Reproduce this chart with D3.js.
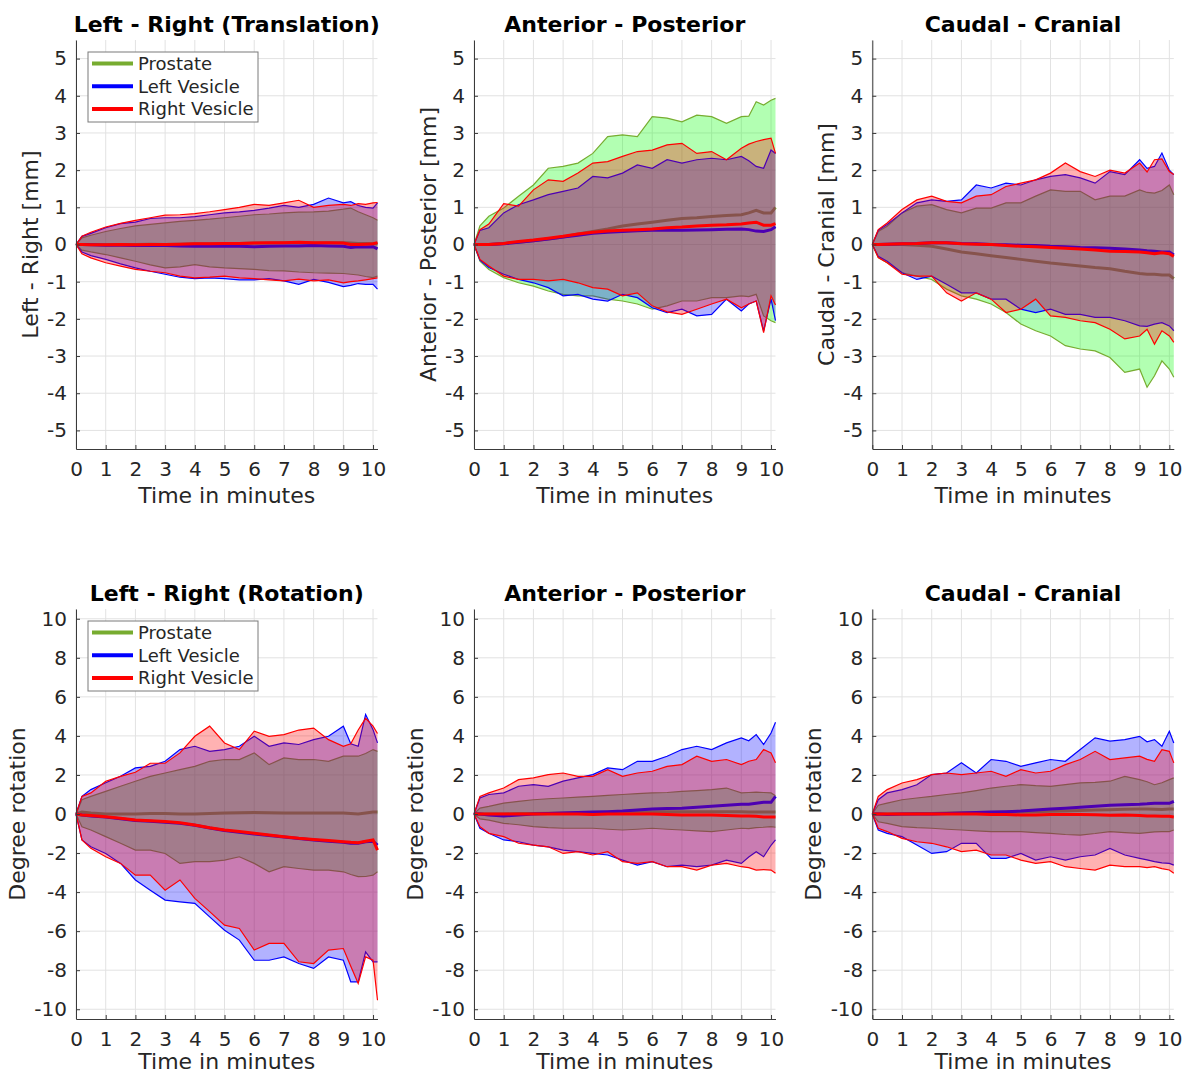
<!DOCTYPE html>
<html>
<head>
<meta charset="utf-8">
<style>
  body { margin: 0; background: #fff; }
  text { font-family: "DejaVu Sans", sans-serif; fill: #262626; }
  .grid line { stroke: #e2e2e2; stroke-width: 1; }
  .axis path, .axis line { stroke: #3a3a3a; stroke-width: 1; }
  .axis text { font-family: "DejaVu Sans", sans-serif; font-size: 20px; fill: #262626; }
</style>
</head>
<body>
<script src="https://cdn.jsdelivr.net/npm/d3@7"></script>
<script>
// time axis (minutes)
var time = [0, 0.2, 0.5, 1, 1.5, 2, 2.5, 3, 3.5, 4, 4.5, 5, 5.5, 6, 6.5, 7, 7.5, 8, 8.5, 9, 9.25, 9.5, 9.75, 10, 10.15];

// Left - Right (translation) [mm]
var lrT_pro_hi = [0, 0.18, 0.25, 0.35, 0.43, 0.5, 0.54, 0.58, 0.62, 0.65, 0.68, 0.72, 0.76, 0.8, 0.82, 0.85, 0.87, 0.88, 0.9, 0.95, 0.98, 0.88, 0.8, 0.72, 0.65];
var lrT_pro_mu = [0, 0, 0, -0.01, 0, 0, 0.01, 0, 0.01, 0.02, 0.02, 0.03, 0.03, 0.04, 0.04, 0.05, 0.05, 0.04, 0.05, 0.05, 0.04, 0.03, 0.03, 0.02, 0.02];
var lrT_pro_lo = [0, -0.15, -0.2, -0.27, -0.36, -0.45, -0.55, -0.63, -0.6, -0.54, -0.6, -0.63, -0.65, -0.67, -0.7, -0.71, -0.74, -0.76, -0.77, -0.78, -0.8, -0.82, -0.86, -0.89, -0.85];
var lrT_lv_hi = [0, 0.22, 0.3, 0.45, 0.56, 0.6, 0.7, 0.72, 0.72, 0.75, 0.8, 0.85, 0.88, 0.92, 0.98, 1.05, 1.0, 1.08, 1.25, 1.12, 1.15, 1.05, 1.0, 0.98, 1.12];
var lrT_lv_mu = [0, 0, -0.01, -0.02, -0.02, -0.03, -0.03, -0.03, -0.04, -0.05, -0.05, -0.05, -0.05, -0.06, -0.05, -0.04, -0.04, -0.03, -0.04, -0.05, -0.08, -0.06, -0.07, -0.06, -0.12];
var lrT_lv_lo = [0, -0.2, -0.3, -0.4, -0.52, -0.63, -0.72, -0.8, -0.88, -0.92, -0.9, -0.92, -0.95, -0.95, -0.92, -0.98, -1.07, -0.94, -1.02, -1.13, -1.1, -1.05, -1.07, -1.07, -1.2];
var lrT_rv_hi = [0, 0.22, 0.33, 0.47, 0.57, 0.65, 0.72, 0.79, 0.8, 0.83, 0.88, 0.94, 1.0, 1.08, 1.05, 1.12, 1.19, 1.0, 1.05, 1.08, 1.05, 1.1, 1.08, 1.12, 1.13];
var lrT_rv_mu = [0, 0, -0.01, -0.01, 0, -0.01, 0, 0, 0.01, 0.02, 0.02, 0.03, 0.03, 0.04, 0.05, 0.05, 0.06, 0.05, 0.05, 0.04, 0, 0, 0.01, 0.02, 0.05];
var lrT_rv_lo = [0, -0.25, -0.36, -0.49, -0.58, -0.67, -0.72, -0.76, -0.85, -0.9, -0.88, -0.85, -0.9, -0.92, -0.95, -0.98, -0.93, -0.98, -0.95, -1.03, -1.0, -0.98, -0.95, -0.92, -0.9];

// Anterior - Posterior (translation) [mm]
var apT_pro_hi = [0, 0.5, 0.76, 0.98, 1.3, 1.6, 2.05, 2.1, 2.19, 2.45, 2.9, 2.95, 2.9, 3.44, 3.4, 3.3, 3.48, 3.44, 3.26, 3.44, 3.45, 3.84, 3.75, 3.88, 3.93];
var apT_pro_mu = [0, 0, 0, 0.03, 0.06, 0.1, 0.15, 0.2, 0.28, 0.35, 0.42, 0.5, 0.55, 0.6, 0.65, 0.7, 0.72, 0.75, 0.78, 0.8, 0.85, 0.92, 0.85, 0.85, 1.0];
var apT_pro_lo = [0, -0.45, -0.67, -0.89, -1.03, -1.12, -1.25, -1.34, -1.38, -1.38, -1.47, -1.52, -1.6, -1.74, -1.65, -1.52, -1.52, -1.43, -1.43, -1.38, -1.4, -1.34, -1.92, -2.05, -2.1];
var apT_lv_hi = [0, 0.38, 0.45, 0.85, 1.07, 1.2, 1.34, 1.43, 1.52, 1.83, 1.79, 1.92, 2.14, 2.05, 2.28, 2.19, 2.28, 2.32, 2.28, 2.37, 2.25, 2.1, 2.05, 2.54, 2.45];
var apT_lv_mu = [0, 0, 0, 0.02, 0.06, 0.1, 0.15, 0.2, 0.25, 0.3, 0.33, 0.35, 0.37, 0.38, 0.38, 0.38, 0.39, 0.4, 0.41, 0.42, 0.4, 0.36, 0.35, 0.4, 0.48];
var apT_lv_lo = [0, -0.42, -0.62, -0.8, -0.94, -1.03, -1.16, -1.38, -1.34, -1.47, -1.52, -1.34, -1.43, -1.7, -1.83, -1.74, -1.92, -1.88, -1.47, -1.79, -1.6, -1.52, -2.32, -1.47, -2.05];
var apT_rv_hi = [0, 0.4, 0.55, 1.1, 1.03, 1.47, 1.74, 1.7, 1.92, 2.19, 2.23, 2.37, 2.5, 2.54, 2.68, 2.72, 2.45, 2.5, 2.28, 2.59, 2.7, 2.77, 2.82, 2.86, 2.45];
var apT_rv_mu = [0, 0, 0, 0.03, 0.08, 0.12, 0.17, 0.22, 0.28, 0.33, 0.36, 0.38, 0.4, 0.42, 0.45, 0.47, 0.5, 0.52, 0.53, 0.55, 0.58, 0.6, 0.52, 0.52, 0.56];
var apT_rv_lo = [0, -0.4, -0.58, -0.85, -0.94, -0.94, -0.98, -0.94, -1.03, -1.16, -1.2, -1.38, -1.3, -1.65, -1.81, -1.88, -1.74, -1.6, -1.47, -1.7, -1.6, -1.52, -2.37, -1.38, -1.63];

// Caudal - Cranial (translation) [mm]
var ccT_pro_hi = [0, 0.35, 0.49, 0.85, 1.03, 1.07, 0.94, 0.85, 0.98, 0.98, 1.12, 1.12, 1.3, 1.47, 1.43, 1.43, 1.2, 1.3, 1.3, 1.47, 1.4, 1.38, 1.45, 1.6, 1.34];
var ccT_pro_mu = [0, 0, 0, 0, -0.02, -0.05, -0.12, -0.2, -0.25, -0.3, -0.35, -0.4, -0.45, -0.5, -0.54, -0.58, -0.62, -0.65, -0.72, -0.78, -0.8, -0.8, -0.82, -0.82, -0.92];
var ccT_pro_lo = [0, -0.35, -0.49, -0.76, -0.85, -0.94, -1.2, -1.38, -1.47, -1.6, -1.83, -2.14, -2.32, -2.46, -2.72, -2.81, -2.86, -3.04, -3.44, -3.35, -3.84, -3.53, -3.13, -3.35, -3.57];
var ccT_lv_hi = [0, 0.38, 0.54, 0.85, 1.12, 1.2, 1.16, 1.2, 1.6, 1.52, 1.65, 1.6, 1.74, 1.83, 1.88, 1.79, 1.65, 1.96, 1.88, 2.28, 2.05, 2.1, 2.46, 2.0, 1.88];
var ccT_lv_mu = [0, 0, 0.01, 0.02, 0.03, 0.05, 0.05, 0.03, 0.02, 0, -0.01, -0.02, -0.03, -0.05, -0.06, -0.08, -0.09, -0.1, -0.12, -0.15, -0.17, -0.18, -0.2, -0.2, -0.28];
var ccT_lv_lo = [0, -0.32, -0.45, -0.76, -0.94, -0.85, -1.07, -1.3, -1.3, -1.47, -1.47, -1.74, -1.83, -1.74, -1.88, -1.88, -1.96, -1.96, -2.05, -2.19, -2.2, -2.14, -2.1, -2.19, -2.32];
var ccT_rv_hi = [0, 0.4, 0.58, 0.94, 1.2, 1.3, 1.16, 1.12, 1.3, 1.34, 1.56, 1.65, 1.74, 1.92, 2.19, 1.96, 1.83, 2.0, 1.92, 2.19, 1.95, 2.28, 2.3, 1.96, 1.88];
var ccT_rv_mu = [0, 0, 0.01, 0.02, 0.03, 0.05, 0.05, 0.02, 0.01, 0, -0.03, -0.05, -0.06, -0.08, -0.1, -0.12, -0.15, -0.18, -0.19, -0.2, -0.22, -0.25, -0.22, -0.25, -0.32];
var ccT_rv_lo = [0, -0.35, -0.49, -0.8, -0.85, -0.85, -1.3, -1.52, -1.3, -1.47, -1.83, -1.74, -1.47, -1.92, -1.96, -2.05, -2.1, -2.28, -2.54, -2.46, -2.28, -2.68, -2.32, -2.46, -2.63];

// Left - Right (rotation) [deg]
var lrR_pro_hi = [0, 0.73, 0.9, 1.16, 1.42, 1.68, 1.93, 2.1, 2.27, 2.44, 2.7, 2.79, 2.79, 3.13, 2.53, 2.87, 2.79, 2.79, 2.7, 2.96, 2.96, 2.96, 3.1, 3.3, 3.21];
var lrR_pro_mu = [0, 0.1, 0.05, 0, 0, 0, 0.02, 0.02, 0, 0, 0.03, 0.05, 0.06, 0.08, 0.06, 0.05, 0.05, 0.05, 0.05, 0.05, 0.03, 0, 0.05, 0.1, 0.1];
var lrR_pro_lo = [0, -0.65, -0.82, -1.16, -1.5, -1.85, -1.85, -2.02, -2.53, -2.44, -2.44, -2.36, -2.19, -2.53, -2.96, -2.7, -2.79, -2.87, -2.87, -2.96, -3.1, -3.21, -3.2, -3.13, -2.96];
var lrR_lv_hi = [0, 0.9, 1.25, 1.6, 1.93, 2.36, 2.44, 2.7, 3.3, 3.47, 3.21, 3.3, 3.47, 3.98, 3.47, 3.64, 3.56, 3.81, 3.98, 4.5, 3.6, 3.47, 5.1, 4.32, 3.64];
var lrR_lv_mu = [0, -0.05, -0.1, -0.16, -0.24, -0.33, -0.37, -0.42, -0.48, -0.58, -0.72, -0.84, -0.93, -1.02, -1.1, -1.18, -1.26, -1.33, -1.4, -1.45, -1.5, -1.5, -1.42, -1.4, -1.6];
var lrR_lv_lo = [0, -1.33, -1.68, -2.02, -2.53, -3.38, -3.9, -4.41, -4.5, -4.58, -5.27, -5.95, -6.46, -7.49, -7.49, -7.32, -7.66, -7.91, -7.32, -7.49, -8.6, -8.6, -7.06, -7.57, -7.57];
var lrR_rv_hi = [0, 0.9, 1.08, 1.68, 1.93, 2.14, 2.6, 2.6, 3.13, 3.98, 4.5, 3.64, 3.3, 4.24, 3.98, 4.07, 4.3, 4.4, 3.81, 3.47, 3.6, 4.3, 4.9, 4.5, 4.12];
var lrR_rv_mu = [0, -0.05, -0.08, -0.14, -0.22, -0.31, -0.35, -0.39, -0.45, -0.56, -0.7, -0.82, -0.9, -0.99, -1.08, -1.16, -1.24, -1.3, -1.36, -1.42, -1.45, -1.47, -1.4, -1.33, -1.85];
var lrR_rv_lo = [0, -1.33, -1.76, -2.19, -2.53, -3.13, -3.13, -3.9, -3.38, -4.32, -5.0, -5.69, -5.86, -6.97, -6.63, -6.63, -7.57, -7.66, -6.97, -6.89, -7.8, -8.68, -7.32, -7.49, -9.54];

// Anterior - Posterior (rotation) [deg]
var apR_pro_hi = [0, 0.3, 0.39, 0.56, 0.65, 0.73, 0.78, 0.82, 0.86, 0.9, 0.95, 1.0, 1.04, 1.08, 1.1, 1.16, 1.2, 1.25, 1.33, 1.08, 1.1, 1.12, 1.1, 1.08, 0.94];
var apR_pro_mu = [0, 0, 0, 0, 0.02, 0.03, 0.04, 0.05, 0.07, 0.08, 0.09, 0.1, 0.1, 0.11, 0.12, 0.12, 0.12, 0.12, 0.11, 0.11, 0.1, 0.1, 0.1, 0.1, 0.1];
var apR_pro_lo = [0, -0.25, -0.31, -0.48, -0.55, -0.65, -0.7, -0.73, -0.73, -0.73, -0.78, -0.82, -0.78, -0.73, -0.78, -0.82, -0.86, -0.9, -0.82, -0.73, -0.75, -0.7, -0.68, -0.65, -0.68];
var apR_lv_hi = [0, 0.82, 1.0, 1.08, 1.42, 1.5, 1.42, 1.68, 1.85, 2.02, 2.36, 2.27, 2.7, 2.7, 2.96, 3.3, 3.47, 3.3, 3.64, 3.9, 3.75, 4.07, 3.56, 4.15, 4.7];
var apR_lv_mu = [0, 0, -0.05, -0.1, -0.05, 0, 0.02, 0.05, 0.08, 0.1, 0.12, 0.15, 0.2, 0.25, 0.28, 0.3, 0.35, 0.4, 0.45, 0.5, 0.5, 0.55, 0.6, 0.6, 0.9];
var apR_lv_lo = [0, -0.73, -0.99, -1.33, -1.42, -1.59, -1.68, -1.85, -1.93, -2.02, -2.1, -2.36, -2.62, -2.44, -2.7, -2.62, -2.7, -2.62, -2.36, -2.53, -2.2, -1.93, -2.19, -1.6, -1.33];
var apR_rv_hi = [0, 0.9, 1.08, 1.33, 1.76, 1.85, 2.02, 2.1, 1.93, 1.93, 2.27, 1.93, 2.1, 2.19, 2.44, 2.53, 2.96, 2.7, 2.79, 2.53, 2.7, 2.79, 3.3, 3.13, 2.62];
var apR_rv_mu = [0, 0, 0, 0, 0, 0, 0, 0, 0, -0.02, 0, 0, 0, 0, -0.03, -0.05, -0.05, -0.05, -0.08, -0.1, -0.1, -0.12, -0.15, -0.15, -0.15];
var apR_rv_lo = [0, -0.65, -0.99, -1.16, -1.5, -1.59, -1.68, -2.02, -1.93, -2.1, -1.93, -2.44, -2.53, -2.44, -2.7, -2.7, -2.87, -2.62, -2.53, -2.7, -2.75, -2.87, -2.85, -2.87, -3.04];

// Caudal - Cranial (rotation) [deg]
var ccR_pro_hi = [0, 0.45, 0.56, 0.73, 0.82, 0.9, 1.0, 1.08, 1.2, 1.33, 1.42, 1.5, 1.45, 1.42, 1.5, 1.59, 1.62, 1.68, 1.93, 1.76, 1.65, 1.5, 1.6, 1.76, 1.85];
var ccR_pro_mu = [0, 0, 0, 0, 0.02, 0.03, 0.05, 0.06, 0.07, 0.08, 0.09, 0.1, 0.12, 0.14, 0.16, 0.18, 0.2, 0.22, 0.24, 0.25, 0.25, 0.24, 0.23, 0.25, 0.25];
var ccR_pro_lo = [0, -0.4, -0.48, -0.65, -0.7, -0.73, -0.78, -0.82, -0.86, -0.9, -0.9, -0.9, -0.95, -0.99, -1.05, -1.08, -1.0, -0.9, -0.95, -0.99, -0.95, -0.92, -0.9, -0.9, -0.82];
var ccR_lv_hi = [0, 0.73, 1.08, 1.25, 1.5, 2.02, 2.1, 2.62, 2.1, 2.79, 2.7, 2.44, 2.62, 2.79, 2.7, 3.3, 3.9, 3.73, 3.81, 3.98, 3.7, 3.81, 3.47, 4.24, 3.64];
var ccR_lv_mu = [0, 0, -0.02, 0, 0, 0, 0.02, 0.05, 0.08, 0.1, 0.12, 0.15, 0.2, 0.25, 0.3, 0.35, 0.4, 0.45, 0.48, 0.5, 0.52, 0.55, 0.55, 0.55, 0.65];
var ccR_lv_lo = [0, -0.82, -0.99, -1.16, -1.59, -2.02, -1.93, -1.5, -1.5, -2.27, -2.27, -2.02, -2.36, -2.19, -2.36, -2.19, -2.1, -1.76, -2.1, -2.27, -2.35, -2.44, -2.5, -2.53, -2.62];
var ccR_rv_hi = [0, 0.9, 1.25, 1.59, 1.76, 2.02, 2.1, 2.02, 2.1, 2.19, 1.93, 2.27, 2.1, 2.19, 2.53, 2.79, 3.21, 2.79, 2.87, 2.96, 2.8, 2.7, 3.3, 3.21, 2.62];
var ccR_rv_mu = [0, 0, 0, 0, 0, 0, 0, 0, 0, -0.02, -0.03, -0.05, -0.05, -0.03, -0.02, -0.02, -0.04, -0.06, -0.05, -0.08, -0.1, -0.1, -0.12, -0.12, -0.15];
var ccR_rv_lo = [0, -0.73, -0.9, -1.25, -1.42, -1.5, -1.68, -1.93, -1.85, -2.1, -2.1, -2.36, -2.53, -2.44, -2.7, -2.79, -2.87, -2.62, -2.7, -2.7, -2.75, -2.7, -2.8, -2.87, -3.04];

var seriesNames = ["Prostate", "Left Vesicle", "Right Vesicle"];
var fillColors = ["#00ff00", "#0000ff", "#ff0000"];
var lineColors = ["#77ac30", "#0000ff", "#ff0000"];
var xTicks = [0, 1, 2, 3, 4, 5, 6, 7, 8, 9, 10];
var yTicksTrans = [-5, -4, -3, -2, -1, 0, 1, 2, 3, 4, 5];
var yTicksRot = [-10, -8, -6, -4, -2, 0, 2, 4, 6, 8, 10];

var panels = [
  {title: "Left - Right (Translation)", ylabel: "Left - Right [mm]", row: 0, col: 0, legend: true,
   series: [[lrT_pro_lo, lrT_pro_mu, lrT_pro_hi], [lrT_lv_lo, lrT_lv_mu, lrT_lv_hi], [lrT_rv_lo, lrT_rv_mu, lrT_rv_hi]]},
  {title: "Anterior - Posterior", ylabel: "Anterior - Posterior [mm]", row: 0, col: 1,
   series: [[apT_pro_lo, apT_pro_mu, apT_pro_hi], [apT_lv_lo, apT_lv_mu, apT_lv_hi], [apT_rv_lo, apT_rv_mu, apT_rv_hi]]},
  {title: "Caudal - Cranial", ylabel: "Caudal - Cranial [mm]", row: 0, col: 2,
   series: [[ccT_pro_lo, ccT_pro_mu, ccT_pro_hi], [ccT_lv_lo, ccT_lv_mu, ccT_lv_hi], [ccT_rv_lo, ccT_rv_mu, ccT_rv_hi]]},
  {title: "Left - Right (Rotation)", ylabel: "Degree rotation", row: 1, col: 0, legend: true,
   series: [[lrR_pro_lo, lrR_pro_mu, lrR_pro_hi], [lrR_lv_lo, lrR_lv_mu, lrR_lv_hi], [lrR_rv_lo, lrR_rv_mu, lrR_rv_hi]]},
  {title: "Anterior - Posterior", ylabel: "Degree rotation", row: 1, col: 1,
   series: [[apR_pro_lo, apR_pro_mu, apR_pro_hi], [apR_lv_lo, apR_lv_mu, apR_lv_hi], [apR_rv_lo, apR_rv_mu, apR_rv_hi]]},
  {title: "Caudal - Cranial", ylabel: "Degree rotation", row: 1, col: 2,
   series: [[ccR_pro_lo, ccR_pro_mu, ccR_pro_hi], [ccR_lv_lo, ccR_lv_mu, ccR_lv_hi], [ccR_rv_lo, ccR_rv_mu, ccR_rv_hi]]}
];

// layout
var colLeft = [76, 474, 872.3];
var plotW = 301.5;
var rows = [
  {top: 40, bottom: 449, dom: [-5.5, 5.5], ticks: yTicksTrans, ylabOff: 38, xlabOff: 54},
  {top: 609, bottom: 1019, dom: [-10.5, 10.5], ticks: yTicksRot, ylabOff: 51, xlabOff: 50}
];

// plain hyphen for negatives, like the original figure
var fmt = function(d) { return String(d); };

var svg = d3.select("body").append("svg")
    .attr("width", 1184)
    .attr("height", 1076);

panels.forEach(function(p) {
  var r = rows[p.row];
  var left = colLeft[p.col], right = left + plotW;
  var x = d3.scaleLinear().domain([0, 10.15]).range([left, right]);
  var y = d3.scaleLinear().domain(r.dom).range([r.bottom, r.top]);
  var g = svg.append("g");

  // grid
  var grid = g.append("g").attr("class", "grid");
  grid.selectAll(".gx").data(xTicks).enter().append("line")
      .attr("x1", function(d) { return x(d); }).attr("x2", function(d) { return x(d); })
      .attr("y1", r.top).attr("y2", r.bottom);
  grid.selectAll(".gy").data(r.ticks).enter().append("line")
      .attr("x1", left).attr("x2", right)
      .attr("y1", function(d) { return y(d); }).attr("y2", function(d) { return y(d); });

  // bands + mean lines, drawn prostate -> left -> right
  p.series.forEach(function(s, k) {
    var lo = s[0], mu = s[1], hi = s[2];
    var area = d3.area()
        .x(function(d, i) { return x(time[i]); })
        .y0(function(d, i) { return y(lo[i]); })
        .y1(function(d, i) { return y(hi[i]); });
    var line = d3.line()
        .x(function(d, i) { return x(time[i]); })
        .y(function(d) { return y(d); });

    g.append("path").datum(time)
        .attr("d", area)
        .attr("fill", fillColors[k])
        .attr("fill-opacity", 0.3)
        .attr("stroke", "none");
    [hi, lo].forEach(function(arr) {
      g.append("path").datum(arr)
          .attr("d", line)
          .attr("fill", "none")
          .attr("stroke", lineColors[k])
          .attr("stroke-width", 1.2);
    });
    g.append("path").datum(mu)
        .attr("d", line)
        .attr("fill", "none")
        .attr("stroke", lineColors[k])
        .attr("stroke-width", 3);
  });

  // axes
  g.append("g").attr("class", "axis")
      .attr("transform", "translate(0," + r.bottom + ")")
      .call(d3.axisBottom(x).tickValues(xTicks).tickFormat(fmt).tickSizeInner(-4).tickSizeOuter(0).tickPadding(13))
      .call(function(a) { a.attr("font-family", null).attr("font-size", null); });
  g.append("g").attr("class", "axis")
      .attr("transform", "translate(" + left + ",0)")
      .call(d3.axisLeft(y).tickValues(r.ticks).tickFormat(fmt).tickSizeInner(-4).tickSizeOuter(0).tickPadding(9))
      .call(function(a) { a.attr("font-family", null).attr("font-size", null); });

  // title and labels
  g.append("text")
      .attr("x", (left + right) / 2).attr("y", r.top - 8)
      .attr("text-anchor", "middle")
      .style("font-size", "22px").style("font-weight", "bold").style("fill", "#000")
      .text(p.title);
  g.append("text")
      .attr("x", (left + right) / 2).attr("y", r.bottom + r.xlabOff)
      .attr("text-anchor", "middle")
      .style("font-size", "22px")
      .text("Time in minutes");
  g.append("text")
      .attr("transform", "translate(" + (left - r.ylabOff) + "," + ((r.top + r.bottom) / 2) + ") rotate(-90)")
      .attr("text-anchor", "middle")
      .style("font-size", "22px")
      .text(p.ylabel);

  // legend
  if (p.legend) {
    var lx = 88, ly = r.top + 12;
    var lg = g.append("g").attr("transform", "translate(" + lx + "," + ly + ")");
    lg.append("rect")
        .attr("width", 170).attr("height", 70)
        .attr("fill", "#fff").attr("stroke", "#7a7a7a").attr("stroke-width", 1);
    seriesNames.forEach(function(n, k) {
      var yy = 11.5 + k * 22.7;
      lg.append("line")
          .attr("x1", 4).attr("x2", 45).attr("y1", yy).attr("y2", yy)
          .attr("stroke", lineColors[k]).attr("stroke-width", 4);
      lg.append("text")
          .attr("x", 50).attr("y", yy).attr("dy", "0.36em")
          .style("font-size", "18px")
          .text(n);
    });
  }
});
</script>
</body>
</html>
